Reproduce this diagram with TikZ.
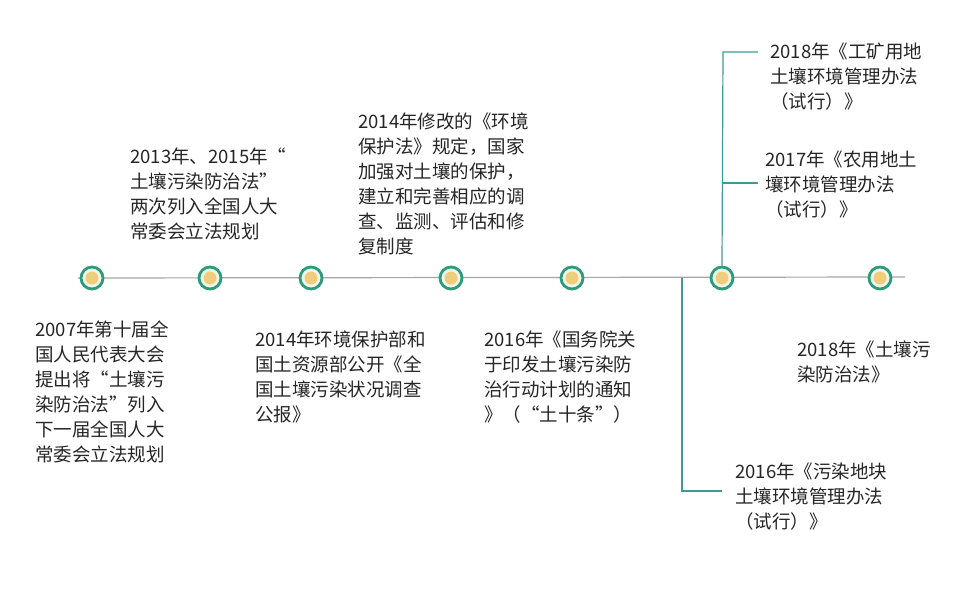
\documentclass[tikz,border=0pt]{standalone}
\usepackage{fontspec}
\setmainfont{Noto Sans CJK SC}
\definecolor{ring}{HTML}{2E9A7C}
\definecolor{dotf}{HTML}{F0CD7A}
\definecolor{inner}{HTML}{EEF6E8}
\definecolor{tline}{HTML}{3E9A94}
\begin{document}
\begin{tikzpicture}[x=1pt,y=-1pt,
  txt/.style={anchor=north west,align=left,inner sep=0pt,font=\fontsize{18.5}{25}\selectfont,text=black!85},
  ln/.style={draw=tline,line width=1.2pt},
  dotc/.style={circle,draw=ring,line width=2.8pt,fill=inner,minimum size=22pt,inner sep=0pt,
    path picture={\fill[dotf] (path picture bounding box.center) circle (6.5pt);}}]
\useasboundingbox (0,0) rectangle (959,603);
\fill[white] (0,0) rectangle (959,603);
\coordinate (ls) at (78,278); \coordinate (le) at (905,277);
\draw[gray!70,line width=1.2pt] (ls) -- (le);
\foreach \n/\x in {a/92,b/210,c/311,d/451,e/572,f/722,g/880}{\node[dotc] (\n) at (\x,278) {};}
\coordinate (t1) at (723,52); \coordinate (t1e) at (758,52);
\coordinate (t2) at (723,183); \coordinate (t2e) at (758,183);
\draw[ln] (f.north) -- (t1) -- (t1e);
\draw[ln] (t2) -- (t2e);
\coordinate (v0) at (682,278); \coordinate (v1) at (682,491); \coordinate (v1e) at (722,491);
\draw[ln] (v0) -- (v1) -- (v1e);
\node[txt] (n1) at (35,321) {2007年第十届全\\国人民代表大会\\提出将“土壤污\\染防治法”列入\\下一届全国人大\\常委会立法规划};
\node[txt] (n2) at (130,148) {2013年、2015年“\\土壤污染防治法”\\两次列入全国人大\\常委会立法规划};
\node[txt] (n3) at (358,113) {2014年修改的《环境\\保护法》规定，国家\\加强对土壤的保护，\\建立和完善相应的调\\查、监测、评估和修\\复制度};
\node[txt] (n4) at (255,331) {2014年环境保护部和\\国土资源部公开《全\\国土壤污染状况调查\\公报》};
\node[txt] (n5) at (484,331) {2016年《国务院关\\于印发土壤污染防\\治行动计划的通知\\》（“土十条”）};
\node[txt] (n6) at (770,43) {2018年《工矿用地\\土壤环境管理办法\\（试行）》};
\node[txt] (n7) at (765,151) {2017年《农用地土\\壤环境管理办法\\（试行）》};
\node[txt] (n8) at (797,341) {2018年《土壤污\\染防治法》};
\node[txt] (n9) at (735,463) {2016年《污染地块\\土壤环境管理办法\\（试行）》};
\end{tikzpicture}
\end{document}
